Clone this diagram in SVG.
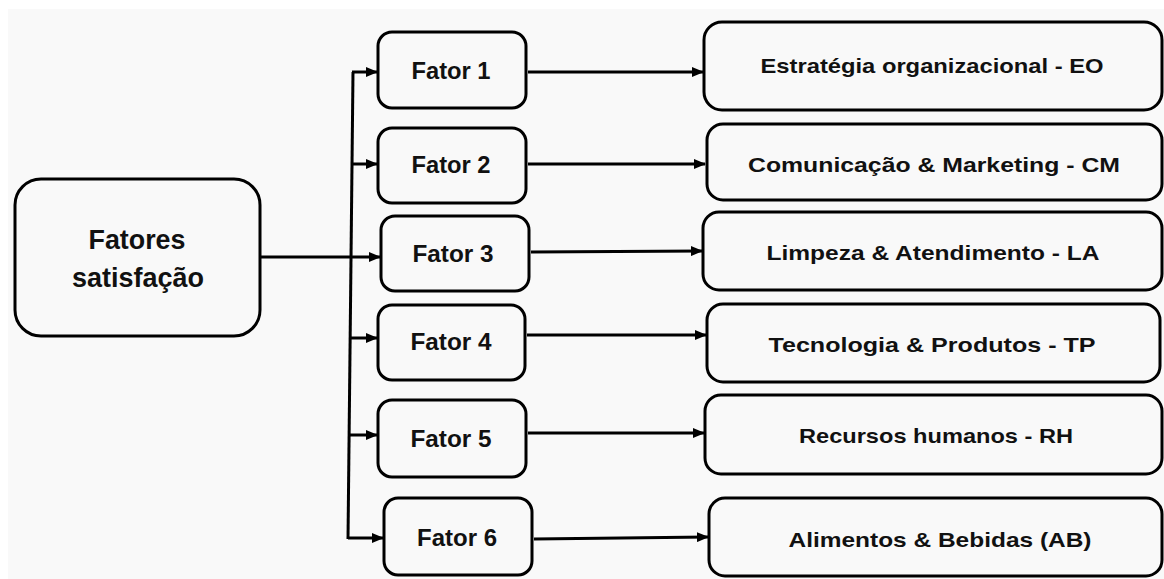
<svg xmlns="http://www.w3.org/2000/svg" width="1164" height="579" viewBox="0 0 1164 579">
  <style>
    .box { fill: #f9f9f9; stroke: #000; stroke-width: 3; }
    .lbl { font-family: "Liberation Sans", Arial, sans-serif; font-weight: bold; fill: #111; text-anchor: middle; }
    .main { font-size: 27px; }
    .fat { font-size: 23px; }
    .res { font-size: 21px; }
    .wire { fill: none; stroke: #000; stroke-width: 3; }
  </style>
  <defs>
    <marker id="arrow" markerUnits="userSpaceOnUse" markerWidth="12" markerHeight="10" refX="11" refY="5" orient="auto">
      <path d="M0,0 L12,5 L0,10 Z" fill="#000"/>
    </marker>
  </defs>

  <!-- page background -->
  <rect x="0" y="0" width="1164" height="579" fill="#ffffff"/>
  <rect x="8" y="9" width="1156" height="570" fill="#f9f9f9"/>

  <!-- root node -->
  <g id="fatores-satisfacao">
    <rect class="box" x="15" y="179" width="245" height="157" rx="26"/>
    <text class="lbl main" x="137" y="249" textLength="97" lengthAdjust="spacingAndGlyphs">Fatores</text>
    <text class="lbl main" x="138" y="287" textLength="132" lengthAdjust="spacingAndGlyphs">satisfação</text>
  </g>

  <!-- factor nodes -->
  <g id="fator-1">
    <rect class="box" x="378" y="32" width="148" height="76" rx="14"/>
    <text class="lbl fat" x="451" y="79" textLength="79" lengthAdjust="spacingAndGlyphs">Fator 1</text>
  </g>
  <g id="fator-2">
    <rect class="box" x="378" y="128" width="148" height="75" rx="14"/>
    <text class="lbl fat" x="451" y="173" textLength="79" lengthAdjust="spacingAndGlyphs">Fator 2</text>
  </g>
  <g id="fator-3">
    <rect class="box" x="381" y="216" width="148" height="75" rx="14"/>
    <text class="lbl fat" x="453" y="262" textLength="81" lengthAdjust="spacingAndGlyphs">Fator 3</text>
  </g>
  <g id="fator-4">
    <rect class="box" x="378" y="305" width="147" height="75" rx="14"/>
    <text class="lbl fat" x="451" y="350" textLength="81" lengthAdjust="spacingAndGlyphs">Fator 4</text>
  </g>
  <g id="fator-5">
    <rect class="box" x="378" y="400" width="148" height="77" rx="14"/>
    <text class="lbl fat" x="451" y="447" textLength="81" lengthAdjust="spacingAndGlyphs">Fator 5</text>
  </g>
  <g id="fator-6">
    <rect class="box" x="384" y="498" width="148" height="77" rx="14"/>
    <text class="lbl fat" x="457" y="546" textLength="80" lengthAdjust="spacingAndGlyphs">Fator 6</text>
  </g>

  <!-- result nodes -->
  <g id="estrategia-organizacional">
    <rect class="box" x="704" y="22" width="458" height="88" rx="18"/>
    <text class="lbl res" x="932" y="73" textLength="343" lengthAdjust="spacingAndGlyphs">Estratégia organizacional  - EO</text>
  </g>
  <g id="comunicacao-marketing">
    <rect class="box" x="707" y="124" width="455" height="76" rx="16"/>
    <text class="lbl res" x="934" y="172" textLength="372" lengthAdjust="spacingAndGlyphs">Comunicação  &amp; Marketing  - CM</text>
  </g>
  <g id="limpeza-atendimento">
    <rect class="box" x="703" y="212" width="459" height="78" rx="16"/>
    <text class="lbl res" x="933" y="260" textLength="333" lengthAdjust="spacingAndGlyphs">Limpeza &amp; Atendimento  - LA</text>
  </g>
  <g id="tecnologia-produtos">
    <rect class="box" x="707" y="304" width="453" height="78" rx="16"/>
    <text class="lbl res" x="932" y="352" textLength="327" lengthAdjust="spacingAndGlyphs">Tecnologia  &amp; Produtos   -  TP</text>
  </g>
  <g id="recursos-humanos">
    <rect class="box" x="705" y="395" width="457" height="79" rx="16"/>
    <text class="lbl res" x="936" y="443" textLength="274" lengthAdjust="spacingAndGlyphs">Recursos  humanos  - RH</text>
  </g>
  <g id="alimentos-bebidas">
    <rect class="box" x="709" y="498" width="453" height="78" rx="16"/>
    <text class="lbl res" x="940" y="547" textLength="303" lengthAdjust="spacingAndGlyphs">Alimentos &amp; Bebidas (AB)</text>
  </g>

  <!-- connectors -->
  <g id="connectors">
    <!-- trunk from root into the branch bus -->
    <line class="wire" x1="260" y1="257" x2="380" y2="257" marker-end="url(#arrow)"/>
    <line class="wire" x1="353" y1="72" x2="348" y2="539"/>
    <!-- branches to each factor -->
    <line class="wire" x1="352" y1="72" x2="377" y2="72" marker-end="url(#arrow)"/>
    <line class="wire" x1="352" y1="164" x2="377" y2="164" marker-end="url(#arrow)"/>
    <line class="wire" x1="351" y1="338" x2="377" y2="338" marker-end="url(#arrow)"/>
    <line class="wire" x1="350" y1="435" x2="377" y2="435" marker-end="url(#arrow)"/>
    <line class="wire" x1="348" y1="538" x2="383" y2="538" marker-end="url(#arrow)"/>
    <!-- factor to result -->
    <line class="wire" x1="528" y1="72" x2="703" y2="72" marker-end="url(#arrow)"/>
    <line class="wire" x1="528" y1="164" x2="705" y2="164" marker-end="url(#arrow)"/>
    <line class="wire" x1="531" y1="252" x2="702" y2="251" marker-end="url(#arrow)"/>
    <line class="wire" x1="527" y1="335" x2="706" y2="335" marker-end="url(#arrow)"/>
    <line class="wire" x1="528" y1="433" x2="704" y2="433" marker-end="url(#arrow)"/>
    <line class="wire" x1="534" y1="539" x2="708" y2="537" marker-end="url(#arrow)"/>
  </g>
</svg>
